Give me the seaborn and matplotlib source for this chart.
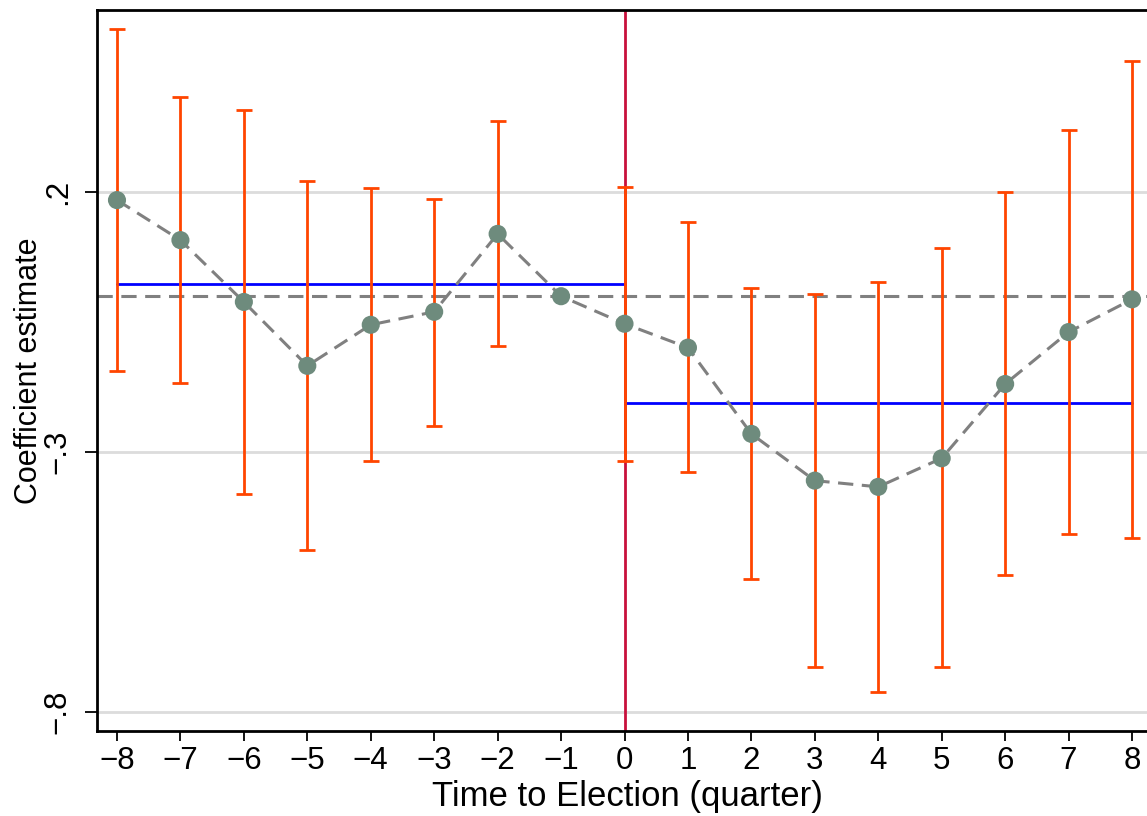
import numpy as np
import pandas as pd
import matplotlib
matplotlib.use("Agg")
import matplotlib.pyplot as plt
import seaborn as sns

# event-time coefficients (quarters to election)
quarters = [-8, -7, -6, -5, -4, -3, -2, -1, 0, 1, 2, 3, 4, 5, 6, 7, 8]
coef = [0.185, 0.108, -0.011, -0.134, -0.055, -0.030, 0.120, 0.0, -0.053,
        -0.099, -0.265, -0.355, -0.367, -0.312, -0.169, -0.069, -0.006]
ci_low = [-0.144, -0.168, -0.381, -0.489, -0.318, -0.249, -0.096, 0.0, -0.317,
          -0.339, -0.545, -0.714, -0.761, -0.714, -0.537, -0.458, -0.465]
ci_high = [0.514, 0.384, 0.358, 0.221, 0.208, 0.188, 0.337, 0.0, 0.210,
           0.142, 0.015, 0.004, 0.028, 0.092, 0.200, 0.320, 0.453]
pre_mean = 0.023
post_mean = -0.205
yticks = [0.2, -0.3, -0.8]
ytick_labels = [".2", "\u2212.3", "\u2212.8"]

df = pd.DataFrame({"t": quarters, "b": coef, "lo": ci_low, "hi": ci_high})

sns.set_style("white", {"xtick.bottom": True, "ytick.left": True,
                        "text.color": "black", "axes.labelcolor": "black",
                        "xtick.color": "black", "ytick.color": "black"})
plt.rcParams["font.family"] = ["Liberation Sans", "DejaVu Sans"]

fig = plt.figure(figsize=(11.47, 8.16), dpi=100)
ax = fig.add_axes([97 / 1147, 85 / 816, 1 - 97 / 1147 + 0.01, 721 / 816])

# grid lines at y ticks
for yv in yticks:
    ax.axhline(yv, color="#dcdcdc", lw=2, zorder=0)

# reference line at zero
ax.axhline(0, color="#808080", lw=2.2, ls=(0, (5, 2.8)), zorder=1)

# confidence intervals (skip the omitted reference quarter)
ci = df[df["hi"] != df["lo"]]
ax.errorbar(ci["t"], ci["b"], yerr=[ci["b"] - ci["lo"], ci["hi"] - ci["b"]],
            fmt="none", ecolor="#ff4500", elinewidth=2, capsize=5.5,
            capthick=2, zorder=3)

# pre / post averages
ax.plot([quarters[0], 0], [pre_mean, pre_mean], color="#0000ff", lw=2, zorder=2)
ax.plot([0, quarters[-1]], [post_mean, post_mean], color="#0000ff", lw=2, zorder=2)

# election quarter
ax.axvline(0, color="#c8103c", lw=2, zorder=2)

sns.lineplot(data=df, x="t", y="b", ax=ax, color="#808080", lw=2.2,
             linestyle=(0, (5, 2.8)), zorder=4)
sns.scatterplot(data=df, x="t", y="b", ax=ax, color="#6e8b7d", s=170,
                edgecolor="none", zorder=5)

ax.set_xlim(-8.315, 8.236 + 0.01 * 1147 / 63.44)
ax.set_ylim(-0.837, 0.551)
ax.set_xticks(quarters)
ax.set_xticklabels([str(q).replace("-", "\u2212") for q in quarters])
ax.set_yticks(yticks)
ax.set_yticklabels(ytick_labels, rotation=90, va="center")
ax.tick_params(axis="both", direction="out", width=1.3,
               labelsize=22.5, color="black", labelcolor="black",
               bottom=True, left=True)
ax.tick_params(axis="x", length=7.5, pad=3)
ax.tick_params(axis="y", length=8.5, pad=9)

for side in ["left", "bottom", "top"]:
    ax.spines[side].set_color("black")
    ax.spines[side].set_linewidth(2)
ax.spines["right"].set_visible(False)

ax.set_xlabel("Time to Election (quarter)", fontsize=25, labelpad=3)
ax.set_ylabel("Coefficient estimate", fontsize=22, labelpad=-1)

fig.savefig("out.png", dpi=100)
